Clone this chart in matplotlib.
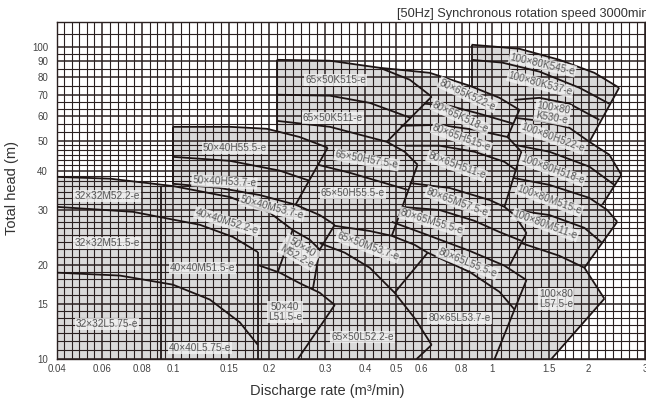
import matplotlib
matplotlib.use('Agg')
import matplotlib.pyplot as plt
from matplotlib.ticker import NullFormatter
import numpy as np

plt.rcParams['font.family'] = ['Liberation Sans', 'DejaVu Sans']

# ---------------- axes ----------------
x_ticks = [0.0434, 0.06, 0.08, 0.1, 0.15, 0.2, 0.3, 0.4, 0.5, 0.6, 0.8, 1, 1.5, 2, 3]
x_tick_labels = ['0.04', '0.06', '0.08', '0.1', '0.15', '0.2', '0.3', '0.4', '0.5',
                 '0.6', '0.8', '1', '1.5', '2', '3']
y_ticks = [10, 15, 20, 30, 40, 50, 60, 70, 80, 90, 100]
y_grid_edges = [10, 15, 20, 30, 40, 50, 60, 70, 80, 90, 100, 120]
y_grid_counts = [7, 5, 8, 7, 6, 3, 3, 2, 2, 2, 2]

# ---------------- performance curves (Q m3/min, H m) ----------------
# 32x32 / 40x40
m52_2_small = [(0.0434, 38.3), (0.0636, 37.8), (0.100, 35.8), (0.151, 33.0), (0.201, 29.4),
               (0.237, 25.9), (0.268, 24.1), (0.288, 22.4)]
m51_5_small = [(0.0434, 30.7), (0.075, 29.6), (0.1215, 26.9), (0.154, 24.6), (0.1844, 22.0)]
l5_75_small = [(0.0434, 18.9), (0.0683, 18.5), (0.100, 17.3), (0.1305, 15.5), (0.162, 13.1),
               (0.1844, 11.1)]
# 50x40
h55_5_50 = [(0.100, 55.4), (0.151, 55.4), (0.197, 54.6), (0.249, 51.4), (0.305, 47.5)]
h53_7_50 = [(0.100, 44.4), (0.151, 43.1), (0.216, 40.1), (0.268, 37.2)]
m53_7_50 = [(0.100, 36.4), (0.140, 35.3), (0.187, 33.5), (0.242, 31.2), (0.288, 28.9), (0.321, 26.9)]
l51_5_50 = [(0.1844, 20.0), (0.216, 18.9), (0.249, 17.5), (0.288, 16.3), (0.321, 14.9)]
# 65x50
k515_65 = [(0.2113, 90.8), (0.310, 90.2), (0.444, 85.6), (0.551, 78.4), (0.645, 69.2)]
k511_65 = [(0.2113, 70.2), (0.310, 69.7), (0.413, 66.1), (0.554, 59.2)]
h57_5_65 = [(0.2113, 57.9), (0.310, 55.4), (0.467, 49.6), (0.531, 46.1), (0.583, 41.9)]
h55_5_65 = [(0.284, 41.9), (0.357, 39.5), (0.460, 36.6), (0.543, 34.8)]
m53_7_65 = [(0.321, 26.7), (0.413, 25.7), (0.484, 24.8), (0.571, 23.2), (0.627, 21.9)]
l52_2_65 = [(0.288, 23.5), (0.345, 21.9), (0.413, 19.6), (0.494, 16.3), (0.571, 13.5), (0.645, 11.1)]
# 80x65
k522_80 = [(0.444, 85.6), (0.636, 82.5), (0.848, 75.0), (1.052, 68.6), (1.214, 62.8)]
k518_80 = [(0.613, 65.7), (0.734, 64.7), (0.911, 61.0), (1.163, 56.7)]
h515_80 = [(0.516, 55.8), (0.683, 56.2), (0.878, 54.2), (1.114, 51.4), (1.232, 46.1)]
h511_80 = [(0.531, 48.2), (0.683, 48.2), (0.878, 46.1), (1.090, 42.8), (1.180, 40.4)]
m57_5_80 = [(0.551, 36.6), (0.734, 35.3), (0.979, 32.3), (1.090, 30.7), (1.172, 28.9), (1.277, 25.3)]
m55_5_80 = [(0.520, 30.7), (0.683, 30.0), (0.878, 27.7), (1.052, 25.5), (1.232, 23.9)]
l55_5_80 = [(0.484, 27.5), (0.636, 24.8), (0.848, 22.2), (1.090, 19.9), (1.277, 17.9)]
l53_7_80 = [(0.627, 21.9), (0.848, 19.0), (1.052, 16.4), (1.172, 14.4)]
# 100x80
k545_100 = [(0.860, 101.5), (1.214, 98.5), (1.619, 90.8), (2.083, 82.5), (2.49, 73.9)]
k537_100 = [(0.860, 90.8), (1.075, 88.9), (1.403, 83.2), (1.870, 73.9), (2.320, 65.7)]
k530_100 = [(1.172, 67.6), (1.403, 68.6), (1.740, 65.7), (2.160, 58.3)]
h522_100 = [(1.180, 59.2), (1.403, 57.9), (1.740, 55.0), (2.010, 49.6), (2.320, 45.1), (2.53, 38.9)]
h518_100 = [(1.172, 48.5), (1.507, 46.1), (2.010, 41.3), (2.406, 36.1)]
m515_100 = [(1.163, 38.0), (1.507, 36.1), (2.010, 32.8), (2.286, 30.0), (2.456, 27.5)]
m511_100 = [(1.172, 30.0), (1.507, 28.9), (1.939, 26.3), (2.207, 23.5)]
l57_5_100 = [(1.232, 23.5), (1.619, 21.4), (1.939, 19.6), (2.239, 15.6)]

# ---------------- range edges / boundaries ----------------
div_32_40 = [(0.0917, 10), (0.0917, 35.9)]
div_40_50 = [(0.1844, 10), (0.1844, 22.0)]
bnd_40_m = [(0.237, 25.9), (0.213, 19.0)]
edge_50 = [(0.100, 55.4), (0.100, 36.4)]
bnd_50_h = [(0.305, 47.5), (0.242, 31.2)]
bnd_50_m = [(0.321, 26.9), (0.288, 22.4), (0.274, 16.7)]
bnd_50_l = [(0.321, 14.9), (0.246, 10)]
edge_65 = [(0.2113, 90.8), (0.2113, 53.7)]
bnd_65_k = [(0.645, 69.2), (0.467, 49.6)]
bnd_65_h = [(0.583, 41.9), (0.484, 24.8)]
bnd_65_m = [(0.627, 21.9), (0.494, 16.3)]
bnd_65_l = [(0.645, 11.1), (0.579, 10)]
bnd_80_k = [(1.214, 62.8), (1.114, 51.4)]
bnd_80_h = [(1.232, 46.1), (1.090, 30.7)]
bnd_80_m = [(1.277, 25.3), (1.130, 19.9)]
bnd_80_l = [(1.277, 17.9), (1.015, 10)]
edge_100 = [(0.860, 101.5), (0.860, 75.0)]
bnd_100_k = [(2.49, 73.9), (2.010, 49.6)]
bnd_100_h = [(2.53, 38.9), (2.207, 31.2)]
bnd_100_m = [(2.456, 27.5), (1.939, 19.6)]
bnd_100_l = [(2.239, 15.6), (1.528, 10)]

# ---------------- labels ----------------
label_text = ['32×32M52.2-e', '32×32M51.5-e', '32×32L5.75-e',
              '40×40M52.2-e', '40×40M51.5-e', '40×40L5.75-e',
              '50×40H55.5-e', '50×40H53.7-e', '50×40M53.7-e', '50×40\nM52.2-e', '50×40\nL51.5-e',
              '65×50K515-e', '65×50K511-e', '65×50H57.5-e', '65×50H55.5-e', '65×50M53.7-e', '65×50L52.2-e',
              '80×65K522-e', '80×65K518-e', '80×65H515-e', '80×65H511-e', '80×65M57.5-e',
              '80×65M55.5-e', '80×65L55.5-e', '80×65L53.7-e',
              '100×80K545-e', '100×80K537-e', '100×80\nK530-e', '100×80H522-e', '100×80H518-e',
              '100×80M515-e', '100×80M511-e', '100×80\nL57.5-e']
label_q = [0.0622, 0.0622, 0.0622,
           0.1476, 0.124, 0.1215,
           0.156, 0.145, 0.204, 0.249, 0.224,
           0.323, 0.316, 0.404, 0.365, 0.407, 0.392,
           0.835, 0.794, 0.80, 0.772, 0.777, 0.645, 0.835, 0.789,
           1.433, 1.413, 1.54, 1.54, 1.54, 1.507, 1.464, 1.585]
label_h = [33.3, 23.5, 12.9,
           27.5, 19.6, 10.85,
           47.5, 36.9, 30.5, 22.0, 14.1,
           78.4, 59.2, 43.4, 34.0, 22.9, 11.8,
           70.2, 59.5, 51.0, 41.5, 31.8, 27.5, 20.3, 13.5,
           88.0, 76.1, 61.4, 51.1, 40.4, 32.3, 26.9, 15.6]
label_rot = [0, 0, 0,
             -17, 0, 0,
             0, -3, -15, -30, 0,
             0, 0, -10, 0, -20, 0,
             -25, -25, -20, -20, -20, -17, -22, 0,
             -13, -15, -10, -20, -20, -20, -20, 0]

GRAY = '#dadada'
INK = '#1e1515'


def after(curve, q):
    return [p for p in curve if p[0] > q + 1e-9]


def xy(points):
    return [p[0] for p in points], [p[1] for p in points]


def main() -> None:
    fig = plt.figure(figsize=(6.46, 4.07), dpi=100)
    ax = fig.add_axes([57 / 646, 48 / 407, 588 / 646, 337 / 407])
    ax.set_xscale('log')
    ax.set_yscale('log')
    ax.set_xlim(x_ticks[0], 3)
    ax.set_ylim(10, 120)

    # shaded ranges for every pump size
    fam_a = [(x_ticks[0], 10)] + [p for p in m52_2_small if p[0] <= 0.237] + bnd_40_m[1:] \
        + [l51_5_50[0], div_40_50[0]]
    fam_b = [edge_50[0]] + h55_5_50 + bnd_50_h[1:] + after(m53_7_50, 0.242) + bnd_50_m[1:] \
        + after(l51_5_50, 0.274) + bnd_50_l[1:] + [(0.100, 10)]
    fam_e = [(0.2113, 10)] + k515_65 + bnd_65_k[1:] + after(h57_5_65, 0.467) + bnd_65_h[1:] \
        + after(m53_7_65, 0.484) + bnd_65_m[1:] + after(l52_2_65, 0.494) + bnd_65_l[1:]
    fam_g = [(0.444, 10)] + k522_80 + bnd_80_k[1:] + after(h515_80, 1.114) + bnd_80_h[1:] \
        + after(m57_5_80, 1.090) + bnd_80_m[1:] + after(l55_5_80, 1.130) + bnd_80_l[1:]
    fam_f = [(0.860, 10)] + k545_100 + bnd_100_k[1:] + after(h522_100, 2.010) + bnd_100_h[1:] \
        + after(m515_100, 2.207) + bnd_100_m[1:] + after(l57_5_100, 1.939) + bnd_100_l[1:]
    for poly in (fam_a, fam_b, fam_e, fam_g, fam_f):
        qx, hy = xy(poly)
        ax.fill(qx, hy, color=GRAY, lw=0, zorder=1)

    curves = [m52_2_small, m51_5_small, l5_75_small,
              h55_5_50, h53_7_50, m53_7_50, l51_5_50,
              k515_65, k511_65, h57_5_65, h55_5_65, m53_7_65, l52_2_65,
              k522_80, k518_80, h515_80, h511_80, m57_5_80, m55_5_80, l55_5_80, l53_7_80,
              k545_100, k537_100, k530_100, h522_100, h518_100, m515_100, m511_100, l57_5_100]
    bounds = [div_32_40, div_40_50, bnd_40_m, edge_50, bnd_50_h, bnd_50_m, bnd_50_l,
              edge_65, bnd_65_k, bnd_65_h, bnd_65_m, bnd_65_l,
              bnd_80_k, bnd_80_h, bnd_80_m, bnd_80_l,
              edge_100, bnd_100_k, bnd_100_h, bnd_100_m, bnd_100_l]
    for c in curves + bounds:
        qx, hy = xy(c)
        ax.plot(qx, hy, color=INK, lw=1.3, zorder=3, solid_capstyle='butt')

    for t, q, h, r in zip(label_text, label_q, label_h, label_rot):
        ax.text(q, h, t, rotation=r, ha='center', va='center', fontsize=7.2,
                color='#555555', linespacing=1.0, rotation_mode='anchor', zorder=4,
                bbox=dict(boxstyle='square,pad=0.1', fc='#f3f3f3', ec='none', alpha=0.8))

    # graph-paper grid
    k = np.log10(3 / x_ticks[0])
    x_minor = []
    for a, b in zip(x_ticks[:-1], x_ticks[1:]):
        n = max(1, int(round(588 / k * np.log10(b / a) / 7.8)))
        x_minor.extend(np.geomspace(a, b, n + 1)[1:-1])
    y_minor = []
    for a, b, n in zip(y_grid_edges[:-1], y_grid_edges[1:], y_grid_counts):
        y_minor.extend(np.linspace(a, b, n + 1)[1:-1])
    ax.set_xticks(x_ticks)
    ax.set_xticklabels(x_tick_labels)
    ax.set_xticks(x_minor, minor=True)
    ax.set_yticks(y_ticks)
    ax.set_yticklabels([str(v) for v in y_ticks])
    ax.set_yticks(y_minor, minor=True)
    ax.xaxis.set_minor_formatter(NullFormatter())
    ax.yaxis.set_minor_formatter(NullFormatter())
    ax.set_axisbelow(False)
    ax.grid(True, which='major', color='#2a2020', lw=1.1)
    ax.grid(True, which='minor', color='#2a2020', lw=0.8)
    ax.tick_params(which='both', length=0, labelsize=7, colors='#444444')
    ax.tick_params(axis='y', pad=6.5)
    ax.tick_params(axis='x', pad=3.5)
    for s in ax.spines.values():
        s.set_color('#2a2020')
        s.set_linewidth(1.0)

    fig.text(12 / 646, 1 - 188 / 407, 'Total head (m)', rotation=90, ha='center', va='center',
             fontsize=10.5, color='#333333')
    fig.text(327 / 646, 1 - 391 / 407, 'Discharge rate (m³/min)', ha='center', va='center',
             fontsize=10.5, color='#333333')
    fig.text(397 / 646, 1 - 17 / 407, '[50Hz] Synchronous rotation speed 3000min⁻¹',
             va='baseline', ha='left', fontsize=9.2, color='#333333')

    fig.savefig('out.png', dpi=100)


if __name__ == '__main__':
    main()
